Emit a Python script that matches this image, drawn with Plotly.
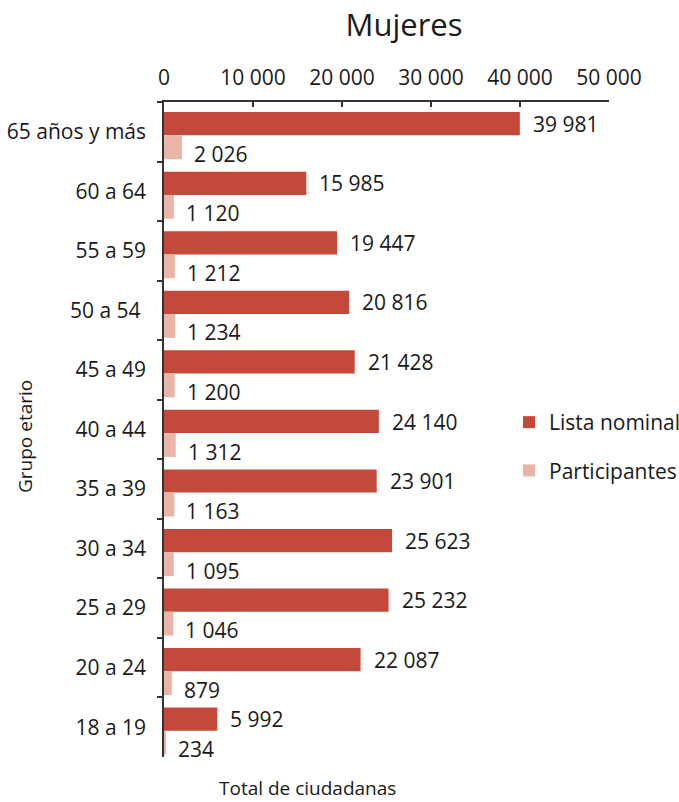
import plotly.graph_objects as go

categorias = ["65 años y más", "60 a 64", "55 a 59", "50 a 54\u00a0", "45 a 49", "40 a 44",
              "35 a 39", "30 a 34", "25 a 29", "20 a 24", "18 a 19"]
lista_nominal = [39981, 15985, 19447, 20816, 21428, 24140, 23901, 25623, 25232, 22087, 5992]
participantes = [2026, 1120, 1212, 1234, 1200, 1312, 1163, 1095, 1046, 879, 234]
tick_vals = [0, 10000, 20000, 30000, 40000, 50000]
tick_text = ["0", "10 000", "20 000", "30 000", "40 000", "50 000"]

def fmt(v):
    return f"{v:,}".replace(",", " ")

FONT = "Open Sans"
ROJO = "#C34A3A"
ROSA = "#E9B5A6"
TXT = "#1a1a1a"

W, H = 679, 802
L, R, T, B = 164, 70, 102, 45
PW, PH = W - L - R, H - T - B

fig = go.Figure()
fig.add_trace(go.Bar(
    y=categorias, x=lista_nominal, orientation="h", name="Lista nominal",
    marker=dict(color=ROJO, line=dict(width=0)),
    offset=-0.33, width=0.39, legendgroup="a", hoverinfo="x+y",
))
fig.add_trace(go.Bar(
    y=categorias, x=participantes, orientation="h", name="Participantes",
    marker=dict(color=ROSA, line=dict(width=0)),
    offset=0.06, width=0.40, legendgroup="b", hoverinfo="x+y",
))

# value labels
for cat, v in zip(categorias, lista_nominal):
    fig.add_annotation(x=v, y=cat, xref="x", yref="y", text=fmt(v), showarrow=False,
                       xanchor="left", yanchor="middle", xshift=11, yshift=8,
                       font=dict(family=FONT, size=21, color=TXT))
for cat, v in zip(categorias, participantes):
    fig.add_annotation(x=v, y=cat, xref="x", yref="y", text=fmt(v), showarrow=False,
                       xanchor="left", yanchor="middle", xshift=10, yshift=-22,
                       font=dict(family=FONT, size=21, color=TXT))

fig.update_layout(
    width=W, height=H,
    margin=dict(l=L, r=R, t=T, b=B, autoexpand=False),
    paper_bgcolor="white", plot_bgcolor="white",
    barmode="overlay",
    font=dict(family=FONT, size=21, color=TXT),
    title=dict(text="Mujeres", x=404/W, xanchor="center", y=1-25/H, yanchor="middle",
               font=dict(family=FONT, size=31, color=TXT)),
    showlegend=True,
    legend=dict(x=(509-L)/PW, xanchor="left", y=(H-B-402)/PH, yanchor="top",
                font=dict(family=FONT, size=21, color=TXT),
                tracegroupgap=18, bgcolor="rgba(0,0,0,0)"),
    xaxis=dict(side="top", range=[0, 50000], tickvals=tick_vals, ticktext=tick_text,
               automargin=False,
               showgrid=False, zeroline=False, showline=True, linecolor="#333", linewidth=1.5,
               ticks="inside", ticklen=5, tickcolor="#333", tickwidth=1.5,
               ticklabelstandoff=7,
               tickfont=dict(family=FONT, size=21, color=TXT)),
    yaxis=dict(range=[len(categorias) - 0.5, -0.5], showgrid=False, zeroline=False,
               showline=True, automargin=False,
               linecolor="#333", linewidth=1.5, ticks="outside", ticklen=5,
               tickcolor="#333", tickwidth=1.5, tickson="boundaries", ticklabelstandoff=12,
               tickfont=dict(family=FONT, size=21, color=TXT)),
)
fig.add_annotation(text="Grupo etario", xref="paper", yref="paper", textangle=-90,
                   x=(25-L)/PW, y=(H-B-437)/PH, xanchor="center", yanchor="middle",
                   showarrow=False, font=dict(family=FONT, size=19, color=TXT))
fig.add_annotation(text="Total de ciudadanas", xref="paper", yref="paper",
                   x=(307-L)/PW, y=-(788-(H-B))/PH, xanchor="center", yanchor="middle",
                   showarrow=False, font=dict(family=FONT, size=19, color=TXT))

fig.write_html("out.html", config={"displayModeBar": False},
               post_script="document.body.style.margin='0';")
